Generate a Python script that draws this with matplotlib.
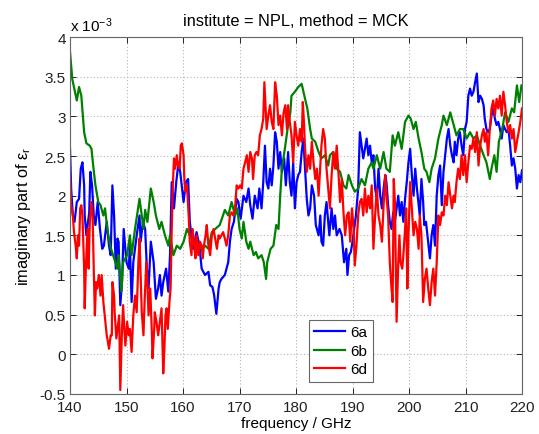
import matplotlib
matplotlib.use("Agg")
import matplotlib.pyplot as plt

# Imaginary part of the relative permittivity, in units of 1e-3
f_6a = [140.0, 140.2, 140.5, 140.8, 141.2, 141.6, 141.9, 142.2, 142.5, 142.6,
        142.9, 143.4, 143.6, 143.9, 144.2, 144.5, 144.9, 145.3, 145.7, 146.0,
        146.5, 146.9, 147.2, 147.5, 147.8, 148.1, 148.4, 148.6, 148.9, 149.2,
        149.5, 150.0, 150.4,
        150.6, 150.9, 151.2, 151.8, 152.3, 152.5, 152.9, 153.3, 153.6, 153.9,
        154.3, 154.8, 155.2, 155.6, 155.9, 156.2, 156.5, 157.0, 157.4, 157.7,
        158.0, 158.4, 158.8, 159.2, 159.5, 160.1, 160.5, 160.9, 161.2, 161.5,
        161.8, 162.4, 162.9, 163.3, 163.9, 164.5, 164.8, 165.2, 165.5,
        165.9, 166.3, 166.5, 166.8, 167.4, 168.0, 168.3, 168.6, 169.0, 169.5,
        169.8, 170.2, 170.7, 171.2, 171.6, 171.9, 172.3, 172.7, 173.2, 173.5,
        173.9, 174.2, 174.5, 174.8, 175.1, 175.4, 175.7, 176.0, 176.3, 176.6,
        176.9, 177.2, 177.5, 177.9, 178.2, 178.6, 178.9, 179.2, 179.5, 179.8,
        180.1, 180.4, 180.7, 181.0, 181.3, 181.6, 181.9, 182.2, 182.5, 182.8,
        183.2, 183.5, 184.0, 184.3, 184.5, 184.8, 185.1, 185.4, 185.9, 186.3,
        186.6, 186.9, 187.2, 187.7, 188.1, 188.5, 188.9, 189.1, 189.4, 189.7,
        190.0, 190.3, 190.6, 191.0, 191.3, 191.6, 191.9, 192.2, 192.5, 192.8,
        193.1, 193.4, 193.7,
        194.0, 194.3, 194.6, 194.9, 195.2, 195.5, 195.8, 196.0, 196.3, 196.6,
        196.9, 197.2, 197.5, 197.8, 198.1, 198.4, 198.7, 199.0, 199.3, 199.6,
        199.9, 200.2, 200.5, 200.8, 201.1, 201.4, 201.7, 201.9, 202.2, 202.5,
        202.7, 203.0, 203.2, 203.4, 203.7, 204.0, 204.3, 204.6, 204.9, 205.2,
        205.5, 205.8, 206.1, 206.4, 206.7, 207.0, 207.3, 207.6, 207.9,
        208.1, 208.4, 208.7, 209.0, 209.3, 209.6, 209.9, 210.2, 210.5, 210.8,
        211.1, 211.4, 211.7, 212.0, 212.2, 212.3, 212.6, 212.9, 213.2, 213.4,
        213.7, 214.0, 214.3, 214.6, 214.9, 215.2, 215.5, 215.8, 216.1, 216.4,
        216.7, 217.0, 217.3, 217.6, 217.9, 218.2, 218.5, 218.8, 219.1, 219.4,
        219.7, 220.0]
eps_6a = [2.59, 2.09, 1.75, 1.67, 1.92, 1.96, 2.34, 2.42, 2.13, 1.75,
          1.50, 1.79, 2.30, 2.13, 1.75, 1.63, 1.92, 1.58, 1.33, 1.37,
          1.67, 1.37, 1.25, 2.13, 1.75, 1.08, 1.46, 1.42, 0.62, 0.91,
          1.58, 1.16, 1.08,
          1.37, 0.66, 1.16, 1.50, 1.75, 1.42, 1.67, 1.58, 1.08, 0.83,
          1.42, 1.16, 0.70, 0.83, 1.00, 0.74, 0.91, 1.08, 0.79, 1.25,
          2.17, 1.84, 2.17, 2.42, 2.30, 1.92, 2.17, 2.21, 1.67, 1.50,
          1.33, 1.54, 1.37, 1.08, 1.00, 1.04, 0.87, 0.85, 0.75,
          0.51, 0.83, 0.91, 0.95, 1.00, 1.16, 1.42, 1.58, 1.67, 1.96,
          1.92, 1.71, 2.00, 1.92, 2.09, 1.88, 1.71, 2.00, 1.84, 2.09,
          1.84, 2.17, 2.63, 2.17, 2.09, 2.34, 2.13, 2.38, 2.80, 2.68,
          2.34, 2.55, 2.30, 2.47, 2.13, 2.55, 2.17, 2.00, 2.42, 1.84,
          2.17, 2.26, 2.30, 2.55, 2.72, 2.34, 1.96, 1.75, 1.84, 2.13,
          2.00, 1.63, 1.50, 1.75, 1.42, 1.37, 1.75, 1.92, 1.50, 1.84,
          1.58, 1.75, 1.50, 1.58, 1.50, 1.16, 1.33, 1.00, 1.25, 1.29,
          1.42, 1.58, 1.75, 2.09, 2.80, 2.63, 2.47, 2.59, 2.72, 2.51,
          2.63, 2.42, 2.51,
          2.09, 1.96, 2.34, 2.00, 1.84, 2.09, 2.26, 2.17, 1.88, 1.67,
          1.58, 1.79, 1.67, 1.84, 2.00, 1.75, 1.92, 1.67, 1.96, 2.17,
          2.42, 2.59, 2.26, 2.00, 2.34, 2.09, 1.88, 1.75, 2.21, 1.92,
          1.63, 1.67, 1.54, 1.42, 1.21, 1.50, 1.63, 1.37, 2.00, 2.26,
          2.38, 1.88, 2.30, 2.51, 2.72, 2.84, 2.63, 2.51, 2.42,
          2.68, 2.51, 2.72, 2.80, 2.63, 2.51, 2.84, 2.93, 3.26, 3.35,
          3.26, 3.31, 3.43, 3.54, 3.31, 3.18, 3.26, 3.22, 3.14, 2.97,
          2.84, 2.80, 2.84, 3.01, 3.10, 2.97, 2.89, 2.93, 2.84, 2.72,
          2.89, 2.84, 2.80, 2.84, 2.63, 2.38, 2.47, 2.34, 2.09, 2.26,
          2.17, 2.32]

f_6b = [140.0, 140.4, 140.7, 141.2, 141.6, 142.0, 142.5, 142.9, 143.5, 143.8,
        144.1, 144.5, 145.0, 145.4, 145.9, 146.2, 146.6, 147.1, 147.8, 148.4,
        148.6, 149.1, 149.4, 150.1,
        150.6, 150.9, 151.5, 152.3, 152.7, 153.0, 153.3, 153.7, 154.3, 154.8,
        155.2, 155.8, 156.2, 156.8, 157.4, 157.7, 158.3, 158.9, 159.5, 160.1,
        160.7, 161.2, 161.8, 162.4, 163.3, 163.9, 164.5, 165.1, 165.7,
        166.5, 167.4, 168.0, 168.6, 169.2, 169.6, 170.0, 170.4, 170.7, 171.2,
        171.6, 171.9, 172.5, 172.9, 173.3, 173.9, 174.3, 174.7, 174.9, 175.5,
        176.0, 176.5, 176.9, 177.2, 177.5, 178.1, 178.5, 179.0, 179.2, 179.8,
        180.4, 181.0, 181.6, 182.0, 182.5, 182.8, 183.4, 184.0, 184.5, 185.1,
        185.7, 186.0, 186.6, 187.2, 187.8, 188.4, 188.9, 189.3, 189.9, 190.4,
        191.0, 191.6, 192.2, 192.8, 193.4,
        193.7, 194.3, 194.9, 195.5, 196.0, 196.6, 197.1, 197.5, 198.1, 198.7,
        199.3, 199.9, 200.3, 200.8, 201.2, 201.7, 202.2, 202.7, 203.1, 203.6,
        204.0, 204.6, 205.2, 205.8, 206.1, 206.7, 207.3, 207.9,
        208.4, 209.0, 209.6, 210.2, 210.8, 211.4, 212.0, 212.6, 213.2, 213.7,
        214.3, 214.6, 215.1, 215.5, 215.9, 216.5, 217.0, 217.6, 218.2, 218.6,
        219.1, 219.5, 219.9]
eps_6b = [3.81, 3.47, 3.37, 3.20, 3.37, 3.26, 2.80, 2.66, 2.63, 2.59,
          2.38, 2.13, 1.92, 1.88, 1.75, 1.84, 1.58, 1.37, 1.21, 1.08,
          1.25, 0.79, 1.16, 1.25,
          1.50, 1.25, 1.58, 1.96, 1.75, 1.58, 1.82, 1.67, 2.09, 1.92,
          1.75, 1.58, 1.67, 1.50, 1.37, 1.50, 1.25, 1.37, 1.33, 1.42,
          1.58, 1.50, 1.42, 1.37, 1.33, 1.37, 1.33, 1.54, 1.58,
          1.63, 1.82, 1.75, 1.92, 1.75, 1.84, 1.58, 1.46, 1.67, 1.42,
          1.33, 1.42, 1.25, 1.29, 1.21, 1.25, 1.16, 0.95, 1.16, 1.33,
          1.37, 1.63, 1.58, 2.00, 2.34, 2.63, 2.84, 3.05, 3.26, 3.31,
          3.37, 3.41, 3.22, 3.10, 2.84, 2.72, 2.68, 2.55, 2.47, 2.51,
          2.38, 2.51, 2.55, 2.34, 2.30, 2.13, 2.09, 2.26, 2.13, 2.05,
          2.09, 2.21, 2.13, 2.34, 2.42,
          2.34, 2.51, 2.34, 2.55, 2.34, 2.30, 2.76, 2.63, 2.80, 2.59,
          2.93, 3.01, 2.97, 2.84, 2.93, 2.72, 2.55, 2.34, 2.30, 2.17,
          2.34, 2.47, 2.72, 2.89, 3.01, 2.89, 3.05, 2.89,
          2.76, 2.84, 2.84, 2.72, 2.80, 2.72, 2.76, 2.63, 2.51, 2.42,
          2.21, 2.34, 2.51, 2.30, 2.68, 2.84, 3.05, 2.93, 3.10, 3.05,
          3.39, 3.18, 3.39]

f_6d = [140.0, 140.2, 140.5, 140.7, 141.0, 141.2, 141.4, 141.6, 141.8, 142.0,
        142.2, 142.5, 142.6, 142.8, 143.1, 143.3, 143.5, 143.8, 144.0, 144.2,
        144.4, 144.6, 144.8, 145.1, 145.4, 145.6, 145.9, 146.2, 146.5, 146.7,
        146.9, 147.2, 147.4, 147.5, 147.8, 147.9, 148.2, 148.5, 148.7, 148.9,
        149.2, 149.4, 149.6, 149.8, 150.1, 150.4,
        150.6, 150.9, 151.2, 151.5, 151.8, 152.1, 152.3, 152.5, 152.7, 153.0,
        153.2, 153.5, 153.7, 153.9, 154.2, 154.5, 154.6, 154.9, 155.0, 155.3,
        155.6, 155.9, 156.2, 156.5, 156.7, 156.9, 157.1, 157.3, 157.6, 157.8,
        158.0, 158.2, 158.4, 158.6, 158.9, 159.1, 159.4, 159.6, 159.8, 160.1,
        160.2, 160.4, 160.7, 160.8, 161.0, 161.2, 161.5, 161.7, 162.0, 162.2,
        162.4, 162.7, 163.0, 163.3, 163.5, 163.7, 164.0, 164.2, 164.5, 164.8,
        165.1, 165.4,
        166.0, 166.3, 166.5, 166.8, 167.1, 167.4, 167.7, 168.0, 168.3, 168.6,
        168.9, 169.2, 169.5, 169.8, 170.1, 170.4, 170.7, 171.0, 171.3, 171.6,
        171.9, 172.2, 172.4, 172.7, 173.0, 173.3, 173.6, 173.9, 174.2, 174.4,
        174.6, 174.8, 175.1, 175.4, 175.7, 176.0, 176.3, 176.6, 176.9, 177.2,
        177.5, 177.8, 178.1, 178.4, 178.6, 178.9, 179.2, 179.5, 179.8,
        180.1, 180.4, 180.7, 181.0, 181.2, 181.4, 181.6, 181.9, 182.2, 182.5,
        182.8, 183.1, 183.4, 183.7, 184.0, 184.3, 184.5, 184.8, 185.1, 185.4,
        185.7, 186.0, 186.3, 186.6, 186.9, 187.2, 187.5, 187.8, 188.1, 188.4,
        188.7, 189.0, 189.3, 189.6, 189.9, 190.2, 190.4, 190.7, 191.0, 191.3,
        191.6, 191.9, 192.2, 192.5, 192.8, 193.1, 193.4,
        193.7, 194.0, 194.3, 194.6, 194.9, 195.2, 195.5, 195.8, 196.0, 196.3,
        196.6, 196.9, 197.1, 197.3, 197.5, 197.8, 198.1, 198.3, 198.5, 198.8,
        199.0, 199.3, 199.5, 199.7, 199.9, 200.2, 200.5, 200.8, 201.1, 201.4,
        201.7, 201.9, 202.2, 202.5, 202.8, 203.1, 203.4, 203.7, 204.0, 204.3,
        204.6, 204.9, 205.2, 205.5, 205.8, 206.1, 206.4, 206.7, 207.0, 207.3,
        207.6, 207.9,
        208.1, 208.4, 208.7, 209.0, 209.3, 209.6, 209.9, 210.2, 210.5, 210.8,
        211.1, 211.4, 211.7, 212.0, 212.3, 212.6, 212.9, 213.2, 213.4, 213.7,
        214.0, 214.3, 214.6, 214.9, 215.2, 215.5, 215.8, 216.1, 216.4, 216.7,
        217.0, 217.3, 217.6, 217.9, 218.2, 218.5, 218.8, 219.1, 219.4, 219.7,
        220.0]
eps_6d = [2.26, 1.88, 1.75, 1.54, 1.37, 1.21, 1.50, 1.37, 1.84, 1.88,
          1.75, 1.08, 0.58, 1.08, 1.58, 1.08, 1.67, 1.92, 1.75, 1.08,
          0.49, 0.91, 0.83, 1.00, 0.74, 1.00, 0.66, 0.45, 0.24, 0.16,
          0.07, 0.24, 0.24, 0.91, 0.74, 0.53, 0.20, 0.37, 0.49, -0.45,
          0.32, 0.62, 0.32, 0.11, 0.41, 0.24,
          0.32, 0.03, 0.49, 0.74, 0.53, 1.16, 1.46, 1.00, 0.53, 0.24,
          0.66, 1.16, 0.91, 0.49, 0.83, 0.24, -0.05, 0.32, 0.53, 0.41,
          0.24, 0.41, 0.58, -0.24, 0.07, 0.49, 0.58, 0.32, 0.66, 0.83,
          1.58, 2.13, 2.47, 2.34, 2.51, 2.38, 2.34, 2.63, 2.66, 2.51,
          2.26, 2.05, 2.13, 2.00, 1.75, 1.42, 1.25, 1.58, 1.37, 1.21,
          1.50, 1.25, 1.42, 1.37, 1.21, 1.37, 1.50, 1.63, 1.37, 1.25,
          1.50, 1.58,
          1.33, 1.50, 1.46, 1.50, 1.54, 1.46, 1.37, 1.50, 1.75, 1.79,
          1.75, 1.84, 2.13, 2.09, 2.13, 2.09, 2.34, 2.42, 2.51, 2.30,
          2.55, 2.47, 2.21, 2.51, 2.55, 2.51, 2.76, 2.84, 2.97, 3.43,
          3.14, 2.84, 3.01, 3.14, 2.93, 2.84, 3.43, 3.26, 2.89, 3.01,
          2.76, 3.05, 3.14, 2.84, 3.14, 2.93, 2.76, 2.42, 2.93,
          2.76, 2.63, 2.84, 2.68, 3.18, 2.93, 2.59, 2.30, 2.51, 2.34,
          2.68, 2.42, 2.21, 2.34, 2.00, 2.38, 2.63, 2.84, 2.72, 2.34,
          2.09, 1.84, 2.26, 2.55, 2.34, 2.63, 2.30, 1.92, 2.21, 1.79,
          1.50, 1.75, 1.79, 1.42, 1.84, 1.58, 1.12, 1.37, 1.75, 1.92,
          1.96, 1.75, 2.09, 1.79, 2.00, 1.84, 2.13,
          1.33, 1.75, 2.09, 1.75, 1.63, 1.42, 1.88, 2.26, 2.00, 1.75,
          1.16, 0.83, 0.66, 2.21, 1.92, 0.41, 1.16, 1.50, 1.16, 1.08,
          1.25, 1.58, 1.84, 0.83, 1.50, 2.17, 1.84, 1.50, 1.67, 1.58,
          1.33, 1.75, 1.50, 0.66, 0.95, 1.08, 0.83, 0.62, 0.91, 1.08,
          0.74, 1.16, 1.75, 1.63, 1.79, 1.75, 2.00, 1.88, 2.17, 2.00,
          1.84, 2.00,
          1.92, 2.17, 2.34, 2.21, 2.51, 2.26, 2.51, 2.17, 2.42, 2.63,
          2.59, 2.72, 2.55, 2.80, 2.38, 2.63, 2.76, 2.84, 2.68, 2.80,
          2.51, 2.84, 3.10, 3.20, 3.01, 3.22, 3.10, 3.26, 3.01, 3.31,
          3.14, 2.93, 2.80, 2.89, 2.72, 2.84, 2.55, 2.68, 2.80, 2.93,
          3.10]

series_labels = ['6a', '6b', '6d']
series_colors = [(0, 0, 1), (0, 0.5, 0), (1, 0, 0)]

x_ticks = [140, 150, 160, 170, 180, 190, 200, 210, 220]
y_ticks = [-0.5, 0, 0.5, 1, 1.5, 2, 2.5, 3, 3.5, 4]
y_tick_labels = ['-0.5', '0', '0.5', '1', '1.5', '2', '2.5', '3', '3.5', '4']

plt.rcParams['font.family'] = ['Liberation Sans', 'DejaVu Sans']
plt.rcParams['mathtext.fontset'] = 'custom'
plt.rcParams['mathtext.rm'] = 'Liberation Sans'
plt.rcParams['mathtext.it'] = 'Liberation Sans'

fig = plt.figure(figsize=(5.39, 4.35), dpi=100)
ax = fig.add_axes([0.1299, 0.0920, 0.8386, 0.8206])

for fx, ey, lab, col in zip([f_6a, f_6b, f_6d], [eps_6a, eps_6b, eps_6d],
                            series_labels, series_colors):
    ax.plot(fx, ey, color=col, linewidth=1.6, label=lab)

ax.set_xlim(140, 220)
ax.set_ylim(-0.5, 4)
ax.set_xticks(x_ticks)
ax.set_xticklabels([str(t) for t in x_ticks])
ax.set_yticks(y_ticks)
ax.set_yticklabels(y_tick_labels)

ax.grid(True, linestyle=(0, (1, 2)), color='#b4b4b4', linewidth=0.8)
ax.tick_params(direction='in', top=True, right=True, length=4,
               width=0.7, labelsize=11, colors='#222222')
ax.tick_params(axis='x', pad=4.5)
ax.tick_params(axis='y', pad=3)
for sp in ax.spines.values():
    sp.set_color('#666666')
    sp.set_linewidth(0.8)

ax.set_title('institute = NPL, method = MCK', fontsize=11.8, pad=9)
ax.set_xlabel('frequency / GHz', fontsize=11, labelpad=1)
ax.set_ylabel(r'imaginary part of $\varepsilon_\mathrm{r}$', fontsize=11.8,
              labelpad=5)
ax.text(0.0, 1.008, r'x 10$^{\mathrm{-3}}$', transform=ax.transAxes,
        ha='left', va='bottom', fontsize=11)

leg = ax.legend(loc='lower left', bbox_to_anchor=(0.529, 0.034),
                fancybox=False, edgecolor='#666666', framealpha=1,
                fontsize=11, handlelength=2.0, handletextpad=0.35,
                labelspacing=0.3, borderpad=0.35, borderaxespad=0)
leg.get_frame().set_linewidth(0.8)

fig.savefig('out.png', dpi=100)
